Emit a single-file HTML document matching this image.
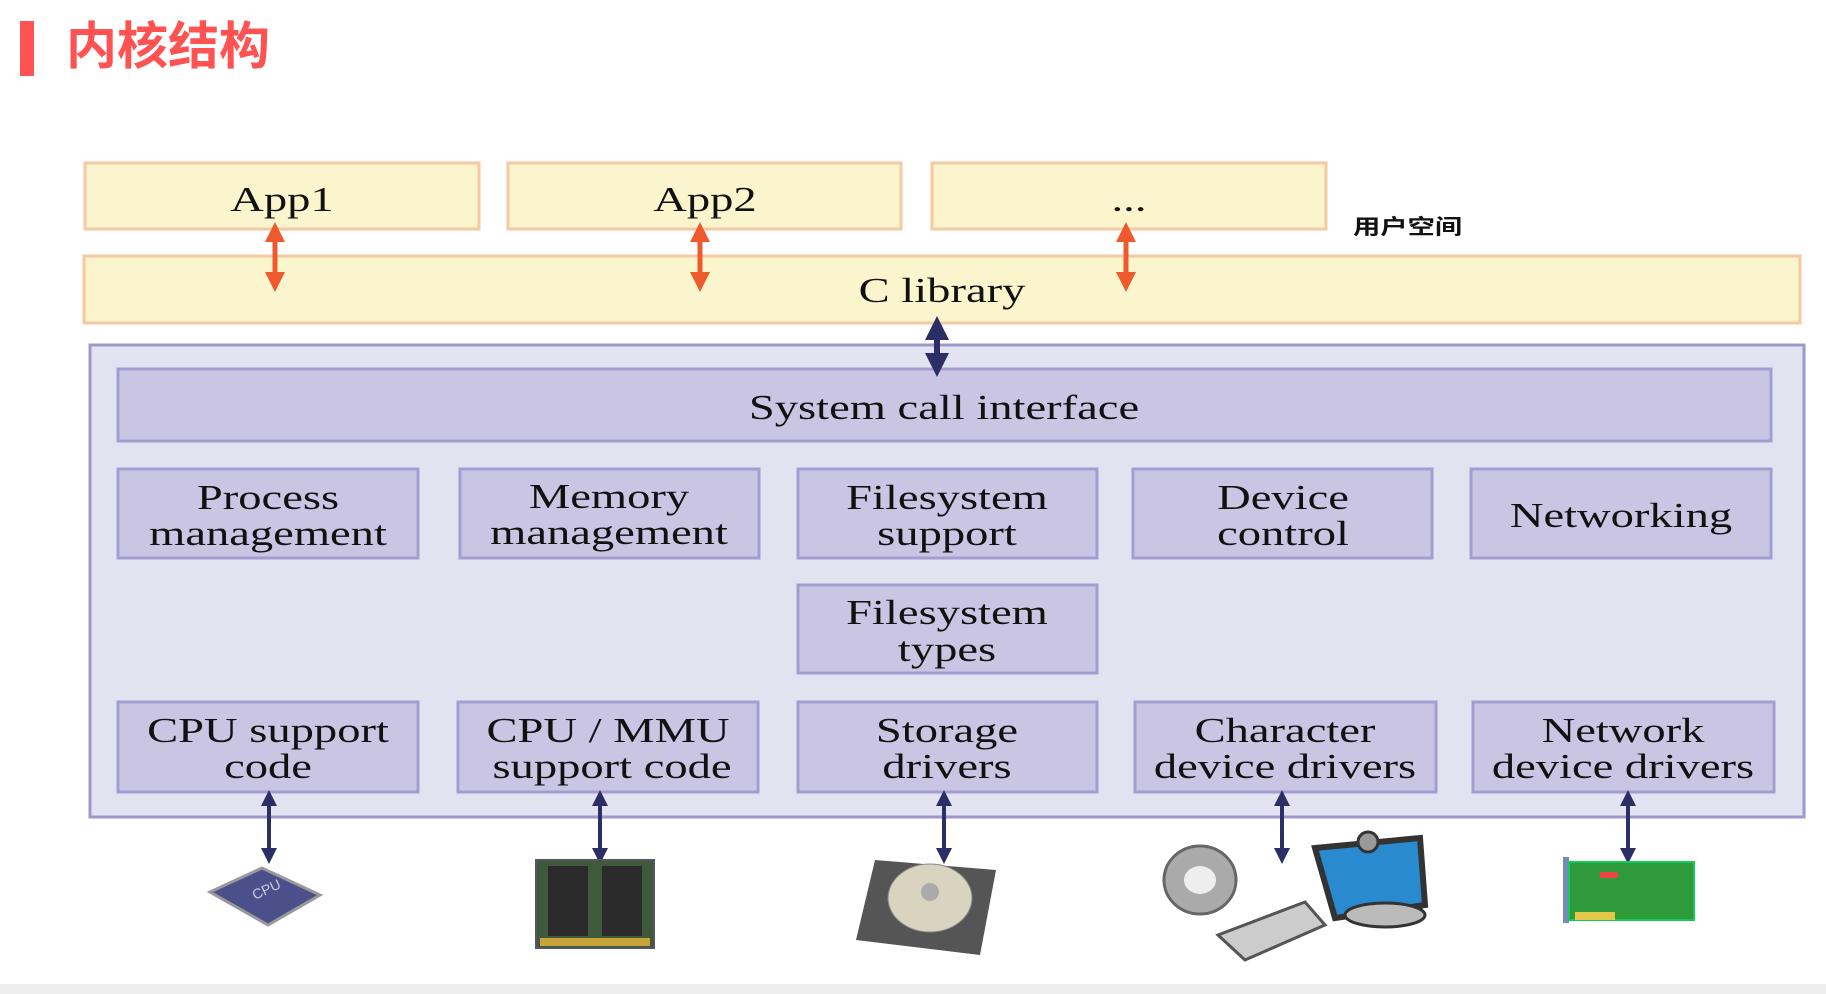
<!DOCTYPE html>
<html><head><meta charset="utf-8"><style>
html,body{margin:0;padding:0;background:#fff;}
svg{display:block}
.s{font-family:"Liberation Serif",serif;font-size:35px;fill:#111;text-anchor:middle}
</style></head><body>
<svg width="1826" height="994" viewBox="0 0 1826 994" xmlns="http://www.w3.org/2000/svg">
<defs>
<marker id="oa" markerWidth="4" markerHeight="4" refX="2" refY="2" orient="auto-start-reverse" markerUnits="strokeWidth"><path d="M0,0 L4,2 L0,4 z" fill="#ee5a2e"/></marker>
<marker id="na" markerWidth="4" markerHeight="4" refX="2" refY="2" orient="auto-start-reverse" markerUnits="strokeWidth"><path d="M0,0 L4,2 L0,4 z" fill="#2c2e66"/></marker>
</defs>
<rect x="0" y="984" width="1826" height="10" fill="#eeeeee"/>
<rect x="20" y="21" width="14" height="55" fill="#ff5252"/>
<text x="66" y="64" font-family="'Liberation Sans','Noto Sans CJK SC',sans-serif" font-weight="bold" font-size="51" fill="#ff5252">内核结构</text>

<g fill="#faf5cc" stroke="#f5c9a3" stroke-width="3">
<rect x="85" y="163" width="394" height="66"/>
<rect x="508" y="163" width="393" height="66"/>
<rect x="932" y="163" width="394" height="66"/>
<rect x="84" y="256" width="1716" height="67"/>
</g>
<g class="s">
<text class="s" transform="translate(282,211) scale(1.33,1)">App1</text>
<text class="s" transform="translate(705,211) scale(1.33,1)">App2</text>
<text class="s" transform="translate(1129,211) scale(1.33,1)">...</text>
<text class="s" transform="translate(942,302) scale(1.33,1)">C library</text>
</g>
<text transform="translate(1353,234) scale(1.3,1)" font-family="'Liberation Sans','Noto Sans CJK SC',sans-serif" font-weight="bold" font-size="21" fill="#111">用户空间</text>
<g stroke="#ee5a2e" stroke-width="5">
<line x1="275" y1="232" x2="275" y2="282" marker-start="url(#oa)" marker-end="url(#oa)"/>
<line x1="700" y1="232" x2="700" y2="282" marker-start="url(#oa)" marker-end="url(#oa)"/>
<line x1="1126" y1="232" x2="1126" y2="282" marker-start="url(#oa)" marker-end="url(#oa)"/>
</g>

<rect x="90" y="345" width="1714" height="472" fill="#e3e2f0" stroke="#9d98cc" stroke-width="3"/>
<g fill="#c9c5e3" stroke="#a39ed2" stroke-width="3">
<rect x="118" y="369" width="1653" height="72"/>
<rect x="118" y="469" width="300" height="89"/>
<rect x="460" y="469" width="299" height="89"/>
<rect x="798" y="469" width="299" height="89"/>
<rect x="1133" y="469" width="299" height="89"/>
<rect x="1471" y="469" width="300" height="89"/>
<rect x="798" y="585" width="299" height="88"/>
<rect x="118" y="702" width="300" height="90"/>
<rect x="458" y="702" width="300" height="90"/>
<rect x="798" y="702" width="299" height="90"/>
<rect x="1135" y="702" width="301" height="90"/>
<rect x="1473" y="702" width="301" height="90"/>
</g>
<text class="s" transform="translate(944,419) scale(1.33,1)">System call interface</text>
<text class="s" transform="translate(268,509) scale(1.33,1)">Process</text><text class="s" transform="translate(268,545) scale(1.33,1)">management</text>
<text class="s" transform="translate(609,508) scale(1.33,1)">Memory</text><text class="s" transform="translate(609,544) scale(1.33,1)">management</text>
<text class="s" transform="translate(947,509) scale(1.33,1)">Filesystem</text><text class="s" transform="translate(947,545) scale(1.33,1)">support</text>
<text class="s" transform="translate(1283,509) scale(1.33,1)">Device</text><text class="s" transform="translate(1283,545) scale(1.33,1)">control</text>
<text class="s" transform="translate(1621,527) scale(1.33,1)">Networking</text>
<text class="s" transform="translate(947,624) scale(1.33,1)">Filesystem</text><text class="s" transform="translate(947,661) scale(1.33,1)">types</text>
<text class="s" transform="translate(268,742) scale(1.33,1)">CPU support</text><text class="s" transform="translate(268,778) scale(1.33,1)">code</text>
<text class="s" transform="translate(608,742) scale(1.33,1)">CPU / MMU</text><text class="s" transform="translate(612,778) scale(1.33,1)">support code</text>
<text class="s" transform="translate(947,742) scale(1.33,1)">Storage</text><text class="s" transform="translate(947,778) scale(1.33,1)">drivers</text>
<text class="s" transform="translate(1285,742) scale(1.33,1)">Character</text><text class="s" transform="translate(1285,778) scale(1.33,1)">device drivers</text>
<text class="s" transform="translate(1623,742) scale(1.33,1)">Network</text><text class="s" transform="translate(1623,778) scale(1.33,1)">device drivers</text>

<g stroke="#2c2e66" stroke-width="6">
<line x1="937" y1="328" x2="937" y2="365" marker-start="url(#na)" marker-end="url(#na)"/>
</g>
<g stroke="#2c2e66" stroke-width="4">
<line x1="269" y1="798" x2="269" y2="856" marker-start="url(#na)" marker-end="url(#na)"/>
<line x1="600" y1="798" x2="600" y2="856" marker-start="url(#na)" marker-end="url(#na)"/>
<line x1="944" y1="798" x2="944" y2="856" marker-start="url(#na)" marker-end="url(#na)"/>
<line x1="1282" y1="798" x2="1282" y2="856" marker-start="url(#na)" marker-end="url(#na)"/>
<line x1="1628" y1="798" x2="1628" y2="856" marker-start="url(#na)" marker-end="url(#na)"/>
</g>

<polygon points="210,892 262,868 320,895 268,925" fill="#4b4f8a" stroke="#999" stroke-width="3"/>
<text x="255" y="900" font-family="Liberation Sans,sans-serif" font-size="14" fill="#ccd" transform="rotate(-25 255 900)">CPU</text>
<rect x="536" y="860" width="118" height="88" fill="#3f5a3a" stroke="#556" stroke-width="2"/>
<rect x="548" y="866" width="40" height="70" fill="#2a2a2a"/><rect x="602" y="866" width="40" height="70" fill="#2a2a2a"/>
<rect x="540" y="938" width="110" height="8" fill="#c9a43a"/>
<polygon points="875,860 996,870 980,955 856,940" fill="#555" />
<ellipse cx="930" cy="898" rx="42" ry="34" fill="#d8d4c0" stroke="#888"/>
<circle cx="930" cy="892" r="9" fill="#aaa"/>
<ellipse cx="1200" cy="880" rx="36" ry="34" fill="#aaa" stroke="#666" stroke-width="3"/>
<ellipse cx="1200" cy="880" rx="16" ry="14" fill="#eee"/>
<polygon points="1315,848 1420,838 1425,905 1335,918" fill="#2a8ad0" stroke="#333" stroke-width="6"/>
<circle cx="1368" cy="842" r="10" fill="#999" stroke="#333" stroke-width="3"/>
<ellipse cx="1385" cy="915" rx="40" ry="12" fill="#bbb" stroke="#333" stroke-width="3"/>
<polygon points="1218,935 1305,902 1325,925 1245,960" fill="#ccc" stroke="#555" stroke-width="3"/>
<rect x="1563" y="857" width="6" height="66" fill="#7788bb"/>
<rect x="1569" y="862" width="125" height="58" fill="#2f9a3a" stroke="#1c5" stroke-width="2"/>
<rect x="1575" y="912" width="40" height="8" fill="#e5c84a"/>
<rect x="1600" y="872" width="18" height="6" fill="#e44"/>
</svg>
</body></html>
